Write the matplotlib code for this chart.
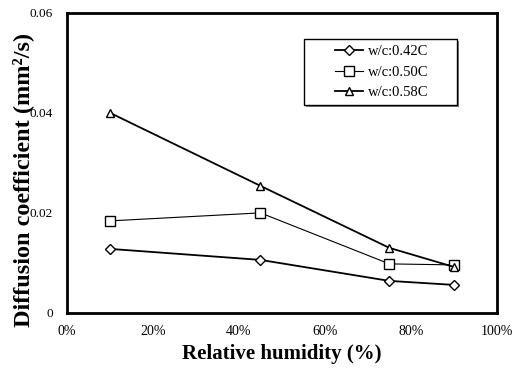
import matplotlib.pyplot as plt
from matplotlib.patches import Rectangle
from matplotlib.ticker import FuncFormatter

plt.rcParams['font.family'] = ['Liberation Serif', 'DejaVu Serif']

humidite = [0.10, 0.45, 0.75, 0.90]
d_042 = [0.0128, 0.0106, 0.0064, 0.0056]
d_050 = [0.0184, 0.0200, 0.0098, 0.0096]
d_058 = [0.0400, 0.0254, 0.0130, 0.0092]
etiquettes = ['w/c:0.42C', 'w/c:0.50C', 'w/c:0.58C']

fig = plt.figure(figsize=(5.28, 3.77), dpi=100)
ax = fig.add_axes([0.127, 0.170, 0.814, 0.796])

ax.plot(humidite, d_042, '-', color='black', lw=1.3, marker='D', ms=5,
        mfc='white', mec='black', label=etiquettes[0])
ax.plot(humidite, d_050, '-', color='black', lw=0.8, marker='s', ms=7,
        mfc='white', mec='black', label=etiquettes[1])
ax.plot(humidite, d_058, '-', color='black', lw=1.3, marker='^', ms=6,
        mfc='white', mec='black', label=etiquettes[2])

ax.set_xlim(0, 1)
ax.set_ylim(0, 0.06)
ax.set_xticks([0, 0.2, 0.4, 0.6, 0.8, 1.0])
ax.set_yticks([0, 0.02, 0.04, 0.06])
ax.xaxis.set_major_formatter(FuncFormatter(lambda v, p: f'{v*100:.0f}%'))
ax.yaxis.set_major_formatter(FuncFormatter(lambda v, p: '0' if v == 0 else f'{v:.2f}'))
ax.tick_params(axis='x', length=0, labelsize=10, pad=9)
ax.tick_params(axis='y', length=0, labelsize=9.5, pad=10)
for s in ax.spines.values():
    s.set_linewidth(2)

ax.set_xlabel('Relative humidity (%)', fontsize=15, fontweight='bold', labelpad=4)
ax.set_ylabel('Diffusion coefficient (mm²/s)', fontsize=17.5, fontweight='bold')
ax.yaxis.set_label_coords(-0.077, 0.443)

# cadre de la légende avec ombre
ax.add_patch(Rectangle((0.557, 0.686), 0.356, 0.22, transform=ax.transAxes,
                       facecolor='gray', edgecolor='none', zorder=4))
ax.add_patch(Rectangle((0.551, 0.693), 0.356, 0.22, transform=ax.transAxes,
                       facecolor='white', edgecolor='black', lw=1, zorder=5))
leg = ax.legend(loc='upper left', bbox_to_anchor=(0.623, 0.893), fontsize=10.5,
                frameon=False, borderpad=0, handlelength=1.9, handletextpad=0.4,
                labelspacing=0.5, borderaxespad=0)
leg.set_zorder(6)

fig.savefig('out.png', dpi=100)
